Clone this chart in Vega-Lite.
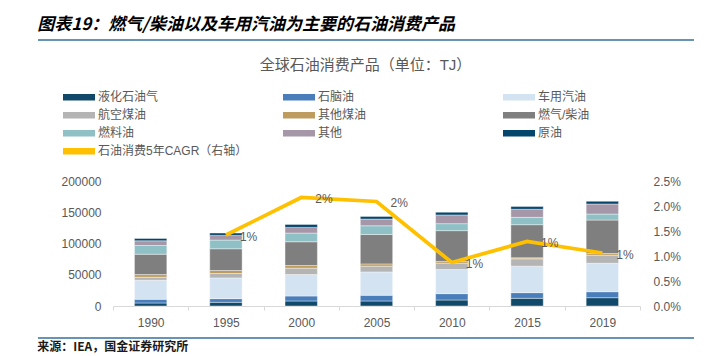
{
  "$schema": "https://vega.github.io/schema/vega-lite/v6.json",
  "background": "white",
  "padding": {"left": 37, "top": 16, "right": 0, "bottom": 0},
  "spacing": 16,
  "resolve": {"scale": {"color": "independent"}, "legend": {"color": "independent"}},
  "config": {
    "view": {"stroke": null},
    "font": "Liberation Sans, Noto Sans CJK SC, sans-serif",
    "axis": {"labelFont": "Liberation Sans, Noto Sans CJK SC, sans-serif", "labelFontSize": 12, "labelColor": "#595959", "grid": false, "title": null}
  },
  "datasets": {
    "bars": [
      {"year": "1990", "product": "液化石油气", "value": 4800},
      {"year": "1990", "product": "石脑油", "value": 5900},
      {"year": "1990", "product": "车用汽油", "value": 30500},
      {"year": "1990", "product": "航空煤油", "value": 4800},
      {"year": "1990", "product": "其他煤油", "value": 4300},
      {"year": "1990", "product": "燃气/柴油", "value": 32600},
      {"year": "1990", "product": "燃料油", "value": 13900},
      {"year": "1990", "product": "其他", "value": 7500},
      {"year": "1990", "product": "原油", "value": 3700},
      {"year": "1995", "product": "液化石油气", "value": 5900},
      {"year": "1995", "product": "石脑油", "value": 5900},
      {"year": "1995", "product": "车用汽油", "value": 33200},
      {"year": "1995", "product": "航空煤油", "value": 7000},
      {"year": "1995", "product": "其他煤油", "value": 4800},
      {"year": "1995", "product": "燃气/柴油", "value": 34800},
      {"year": "1995", "product": "燃料油", "value": 13900},
      {"year": "1995", "product": "其他", "value": 7500},
      {"year": "1995", "product": "原油", "value": 3700},
      {"year": "2000", "product": "液化石油气", "value": 8000},
      {"year": "2000", "product": "石脑油", "value": 8000},
      {"year": "2000", "product": "车用汽油", "value": 34300},
      {"year": "2000", "product": "航空煤油", "value": 10200},
      {"year": "2000", "product": "其他煤油", "value": 4300},
      {"year": "2000", "product": "燃气/柴油", "value": 38000},
      {"year": "2000", "product": "燃料油", "value": 13900},
      {"year": "2000", "product": "其他", "value": 9100},
      {"year": "2000", "product": "原油", "value": 4800},
      {"year": "2005", "product": "液化石油气", "value": 8000},
      {"year": "2005", "product": "石脑油", "value": 9100},
      {"year": "2005", "product": "车用汽油", "value": 37500},
      {"year": "2005", "product": "航空煤油", "value": 9100},
      {"year": "2005", "product": "其他煤油", "value": 3700},
      {"year": "2005", "product": "燃气/柴油", "value": 47100},
      {"year": "2005", "product": "燃料油", "value": 13900},
      {"year": "2005", "product": "其他", "value": 10700},
      {"year": "2005", "product": "原油", "value": 4300},
      {"year": "2010", "product": "液化石油气", "value": 9600},
      {"year": "2010", "product": "石脑油", "value": 10200},
      {"year": "2010", "product": "车用汽油", "value": 38600},
      {"year": "2010", "product": "航空煤油", "value": 10200},
      {"year": "2010", "product": "其他煤油", "value": 2700},
      {"year": "2010", "product": "燃气/柴油", "value": 49300},
      {"year": "2010", "product": "燃料油", "value": 11200},
      {"year": "2010", "product": "其他", "value": 13900},
      {"year": "2010", "product": "原油", "value": 4300},
      {"year": "2015", "product": "液化石油气", "value": 12300},
      {"year": "2015", "product": "石脑油", "value": 9100},
      {"year": "2015", "product": "车用汽油", "value": 42300},
      {"year": "2015", "product": "航空煤油", "value": 11800},
      {"year": "2015", "product": "其他煤油", "value": 1600},
      {"year": "2015", "product": "燃气/柴油", "value": 53000},
      {"year": "2015", "product": "燃料油", "value": 11800},
      {"year": "2015", "product": "其他", "value": 12900},
      {"year": "2015", "product": "原油", "value": 4300},
      {"year": "2019", "product": "液化石油气", "value": 13300},
      {"year": "2019", "product": "石脑油", "value": 9600},
      {"year": "2019", "product": "车用汽油", "value": 45500},
      {"year": "2019", "product": "航空煤油", "value": 12900},
      {"year": "2019", "product": "其他煤油", "value": 2700},
      {"year": "2019", "product": "燃气/柴油", "value": 53500},
      {"year": "2019", "product": "燃料油", "value": 9600},
      {"year": "2019", "product": "其他", "value": 16100},
      {"year": "2019", "product": "原油", "value": 4300}
    ],
    "cagr": [
      {"year": "1995", "cagr": 0.0142},
      {"year": "2000", "cagr": 0.0217},
      {"year": "2005", "cagr": 0.0209},
      {"year": "2010", "cagr": 0.0087},
      {"year": "2015", "cagr": 0.0129},
      {"year": "2019", "cagr": 0.0106}
    ]
  },
  "vconcat": [
    {
      "width": 581,
      "height": 1,
      "title": {"text": "图表19：燃气/柴油以及车用汽油为主要的石油消费产品", "anchor": "start", "frame": "bounds", "font": "Noto Sans CJK SC", "fontSize": 17, "fontWeight": "bold", "fontStyle": "italic", "color": "#000000", "offset": 5},
      "data": {"values": [{}]},
      "mark": {"type": "rule", "color": "#36709a", "strokeWidth": 1.5},
      "encoding": {
        "x": {"datum": -75, "type": "quantitative", "scale": {"domain": [0, 581]}, "axis": null},
        "x2": {"datum": 581},
        "y": {"datum": 0, "type": "quantitative", "scale": {"domain": [0, 1]}, "axis": null}
      }
    },
    {
      "spacing": 9,
      "resolve": {"scale": {"color": "independent"}, "legend": {"color": "independent"}},
      "vconcat": [
        {
          "width": 527,
          "height": 125,
          "title": {"text": "全球石油消费产品（单位：TJ）", "anchor": "middle", "frame": "group", "font": "Liberation Sans, Noto Sans CJK SC, sans-serif", "fontSize": 15, "fontWeight": "normal", "color": "#595959", "dx": -11, "offset": 18.3},
          "layer": [
            {
              "data": {"name": "bars"},
              "transform": [
                {"calculate": "indexof(['液化石油气','石脑油','车用汽油','航空煤油','其他煤油','燃气/柴油','燃料油','其他','原油'], datum.product)", "as": "k"}
              ],
              "mark": {"type": "bar", "width": {"band": 0.43}, "stroke": "white", "strokeWidth": 0.4},
              "encoding": {
                "x": {"field": "year", "type": "ordinal", "scale": {"paddingInner": 0, "paddingOuter": 0},
                  "axis": {"title": null, "labelAngle": 0, "domain": true, "domainColor": "#d9d9d9", "domainWidth": 1, "ticks": true, "tickColor": "#d9d9d9", "tickSize": 4, "tickBand": "extent", "labelPadding": 7}},
                "y": {"field": "value", "type": "quantitative", "stack": "zero", "scale": {"domain": [0, 200000]},
                  "axis": {"values": [0, 50000, 100000, 150000, 200000], "format": "d", "domain": false, "ticks": false, "labelPadding": 12}},
                "order": {"field": "k", "type": "quantitative", "sort": "ascending"},
                "color": {"field": "product", "type": "nominal",
                  "scale": {
                    "domain": ["液化石油气", "石脑油", "车用汽油", "航空煤油", "其他煤油", "燃气/柴油", "燃料油", "其他", "原油", "石油消费5年CAGR（右轴）"],
                    "range": ["#11496a", "#4a7ebb", "#d3e3f2", "#b4b4b4", "#bd9c5e", "#7f7f7f", "#8fc0c6", "#a596a8", "#05466d", "#ffc000"]
                  },
                  "legend": {"orient": "none", "direction": "horizontal", "legendX": -50, "legendY": -89.8, "padding": 0, "columns": 3, "gridAlign": "all", "columnPadding": 34, "rowPadding": 6,
                    "symbolType": "M-2.667,-0.54H2.667V0.54H-2.667Z", "symbolSize": 144, "symbolStrokeWidth": 0, "symbolOffset": 10, "labelOffset": 13,
                    "labelFontSize": 12, "labelColor": "#595959", "labelFont": "Liberation Sans, Noto Sans CJK SC, sans-serif", "labelLimit": 300, "title": null}
                }
              }
            },
            {
              "data": {"name": "cagr"},
              "encoding": {
                "x": {"field": "year", "type": "ordinal"},
                "y": {"field": "cagr", "type": "quantitative", "scale": {"domain": [0, 0.025]},
                  "axis": {"orient": "right", "values": [0, 0.005, 0.01, 0.015, 0.02, 0.025], "format": ".1%", "domain": false, "ticks": false, "labelPadding": 13}}
              },
              "layer": [
                {"mark": {"type": "line", "color": "#ffc000", "strokeWidth": 3.75}},
                {"mark": {"type": "text", "align": "left", "dx": 14, "dy": 1.5, "fontSize": 12, "color": "#595959", "font": "Liberation Sans, sans-serif"},
                  "encoding": {"text": {"field": "cagr", "type": "quantitative", "format": ".0%"}}}
              ]
            }
          ],
          "resolve": {"scale": {"y": "independent"}}
        },
        {
          "width": 581,
          "height": 1,
          "title": {"text": "来源：IEA，国金证券研究所", "orient": "bottom", "anchor": "start", "frame": "bounds", "font": "Noto Sans CJK SC", "fontSize": 12, "fontWeight": "bold", "color": "#1a1a1a", "offset": 3},
          "data": {"values": [{}]},
          "mark": {"type": "rule", "color": "#36709a", "strokeWidth": 1.5},
          "encoding": {
            "x": {"datum": -75, "type": "quantitative", "scale": {"domain": [0, 581]}, "axis": null},
            "x2": {"datum": 581},
            "y": {"datum": 1, "type": "quantitative", "scale": {"domain": [0, 1]}, "axis": null}
          }
        }
      ]
    }
  ]
}
